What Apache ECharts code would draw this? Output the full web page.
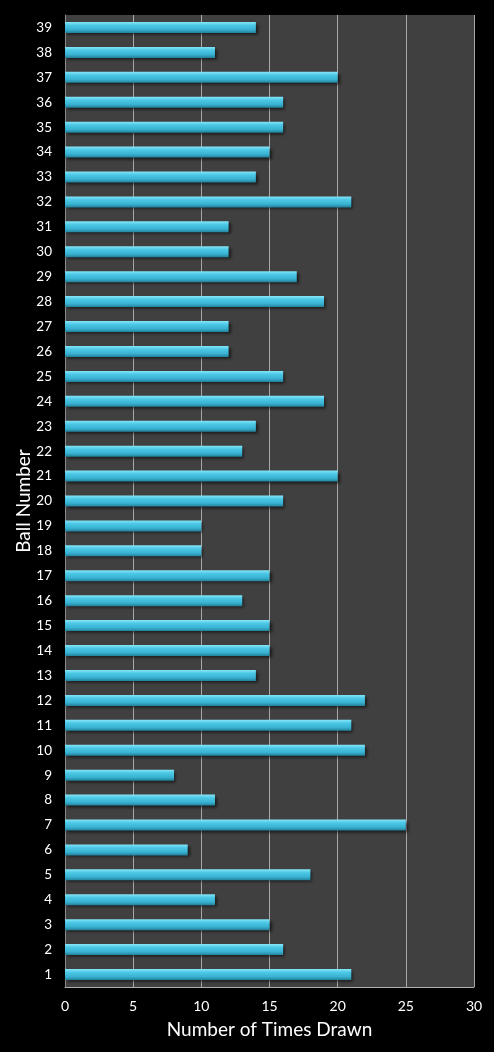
<!DOCTYPE html>
<html><head><meta charset="utf-8">
<script src="https://cdn.jsdelivr.net/npm/echarts@6/dist/echarts.min.js"></script>
<style>html,body{margin:0;padding:0;background:#000;}#c{width:494px;height:1052px;}</style>
</head><body><div id="c"></div>
<script>
const categories = ['1','2','3','4','5','6','7','8','9','10','11','12','13','14','15','16','17','18','19','20','21','22','23','24','25','26','27','28','29','30','31','32','33','34','35','36','37','38','39'];
const timesDrawn = [21,16,15,11,18,9,25,11,8,22,21,22,14,15,15,13,15,10,10,16,20,13,14,19,16,12,12,19,17,12,12,21,14,15,16,16,20,11,14];
const xTicks = [0,5,10,15,20,25,30];

const chart = echarts.init(document.getElementById('c'));
chart.setOption({
  backgroundColor: '#000',
  animation: false,
  grid: {left: 65, right: 20, top: 15, bottom: 65, show: true, backgroundColor: '#404040', borderWidth: 0, containLabel: false, outerBoundsMode: 'none'},
  xAxis: {
    type: 'value', min: xTicks[0], max: xTicks[xTicks.length-1], interval: 5,
    name: 'Number of Times Drawn', nameLocation: 'middle', nameGap: 33, nameMoveOverlap: false,
    nameTextStyle: {color: '#fff', fontSize: 19, fontFamily: 'Lato'},
    axisLine: {show: true, lineStyle: {color: '#b0b0b0', width: 1}},
    axisTick: {show: false},
    axisLabel: {color: '#fff', fontSize: 14, fontFamily: 'Lato', margin: 12},
    splitLine: {show: true, lineStyle: {color: '#a8a8a8', width: 1}}
  },
  yAxis: {
    type: 'category', data: categories,
    name: 'Ball Number', nameLocation: 'middle', nameGap: 32, nameRotate: 90, nameMoveOverlap: false,
    nameTextStyle: {color: '#fff', fontSize: 19, fontFamily: 'Lato'},
    axisLine: {show: true, lineStyle: {color: '#8a8a8a', width: 1}},
    axisTick: {show: false},
    axisLabel: {color: '#fff', fontSize: 13.5, fontFamily: 'Lato', margin: 13},
    splitLine: {show: false}
  },
  series: [{
    type: 'bar', data: timesDrawn, barWidth: 11,
    itemStyle: {
      color: {type: 'linear', x: 0, y: 0, x2: 0, y2: 1, colorStops: [
        {offset: 0, color: '#86e6f8'},
        {offset: 0.3, color: '#4cc8e6'},
        {offset: 0.7, color: '#38b2d0'},
        {offset: 1, color: '#23809a'}
      ]},
      shadowColor: 'rgba(0,0,0,0.6)', shadowBlur: 3, shadowOffsetX: 2, shadowOffsetY: 2
    }
  }]
});
</script></body></html>
